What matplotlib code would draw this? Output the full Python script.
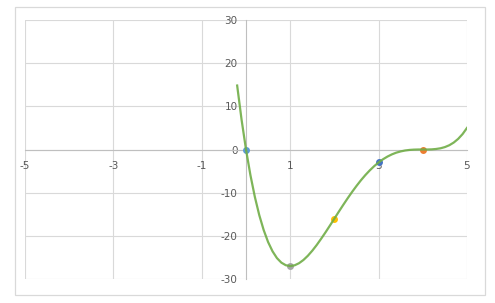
import matplotlib
matplotlib.use("Agg")
import matplotlib.pyplot as plt
from matplotlib.patches import Rectangle

plt.rcParams["axes.unicode_minus"] = False

# Smooth curve samples
curve_x = [-0.2, -0.1, 0.0, 0.1, 0.2, 0.3, 0.4, 0.5, 0.6, 0.7, 0.8, 0.9, 1.0,
           1.1, 1.2, 1.3, 1.4, 1.5, 1.6, 1.7, 1.8, 1.9, 2.0, 2.1, 2.2, 2.3,
           2.4, 2.5, 2.6, 2.7, 2.8, 2.9, 3.0, 3.1, 3.2, 3.3, 3.4, 3.5, 3.6,
           3.7, 3.8, 3.9, 4.0, 4.1, 4.2, 4.3, 4.4, 4.5, 4.6, 4.7, 4.8, 4.9, 5.0]
curve_y = [14.82, 6.89, 0.0, -5.93, -10.97, -15.20, -18.66, -21.44, -23.58,
           -25.16, -26.21, -26.81, -27.0, -26.83, -26.34, -25.59, -24.61,
           -23.44, -22.12, -20.68, -19.17, -17.60, -16.0, -14.40, -12.83,
           -11.30, -9.83, -8.44, -7.13, -5.93, -4.84, -3.86, -3.0, -2.26,
           -1.64, -1.13, -0.73, -0.44, -0.23, -0.10, -0.03, 0.0, 0.0, 0.0,
           0.03, 0.12, 0.28, 0.56, 0.99, 1.61, 2.46, 3.57, 5.0]

# Highlighted points
point_x = [0, 4, 1, 2, 3]
point_y = [0, 0, -27, -16, -3]
point_colors = ["#5B9BD5", "#ED7D31", "#A5A5A5", "#FFC000", "#4472C4"]

x_ticks = [-5, -3, -1, 1, 3, 5]
y_ticks = [-30, -20, -10, 0, 10, 20, 30]

fig = plt.figure(figsize=(4.95, 3.03), dpi=100)
fig.patch.set_facecolor("white")
fig.patches.append(Rectangle((15 / 495, 1 - 295 / 303), 470 / 495, 288 / 303,
                             transform=fig.transFigure, fill=False,
                             edgecolor="#D9D9D9", linewidth=0.9))

ax = fig.add_axes([25 / 495, 1 - 279 / 303, 442 / 495, 259 / 303])
ax.set_xlim(-5, 5)
ax.set_ylim(-30, 30)
ax.set_xticks(x_ticks)
ax.set_yticks(y_ticks)
ax.grid(True, color="#D9D9D9", linewidth=0.8)
ax.set_axisbelow(True)

for side in ["top", "right"]:
    ax.spines[side].set_visible(False)
ax.spines["left"].set_position(("data", 0))
ax.spines["bottom"].set_position(("data", 0))
for side in ["left", "bottom"]:
    ax.spines[side].set_color("#BFBFBF")
    ax.spines[side].set_linewidth(0.8)

ax.tick_params(axis="both", length=0, labelsize=7.5, labelcolor="#595959")
ax.tick_params(axis="y", pad=6)
ax.tick_params(axis="x", pad=8)

# Point markers sit beneath the curve
for px, py, pc in zip(point_x, point_y, point_colors):
    ax.plot([px], [py], marker="o", markersize=5, color=pc,
            markeredgewidth=0, zorder=3)
ax.plot(curve_x, curve_y, color="#70AD47", linewidth=1.6, alpha=0.9, zorder=4)

fig.savefig("out.png", dpi=100)
